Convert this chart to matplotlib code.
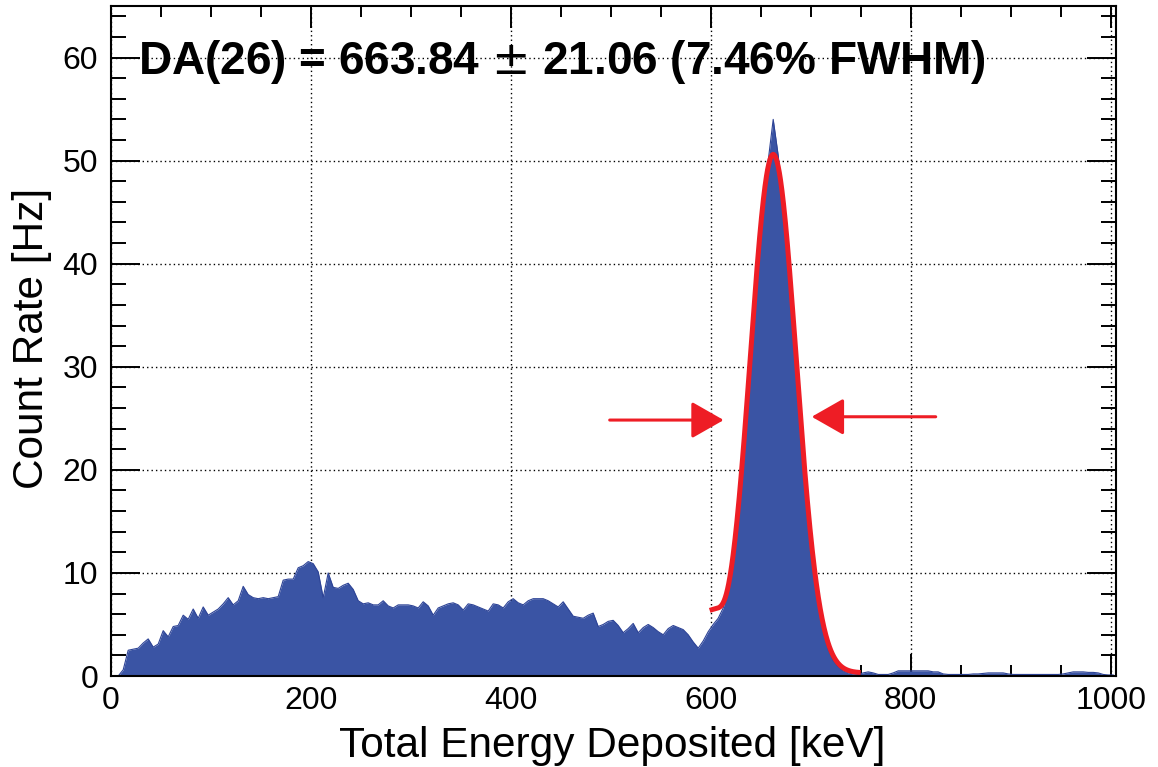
import numpy as np
import matplotlib
matplotlib.use("Agg")
import matplotlib.pyplot as plt
from matplotlib.ticker import MultipleLocator

plt.rcParams['font.family'] = ['Liberation Sans', 'DejaVu Sans']

# ---------------- data ----------------
bin_width_kev = 5.0
# count rate [Hz] per 5 keV bin, starting at 0 keV
count_rate = [
    0.0, 0.0, 0.6, 2.5, 2.6, 2.7, 3.2, 3.6, 2.8, 3.1,          # 0-45
    4.4, 3.8, 4.8, 4.9, 5.9, 5.5, 6.5, 5.6, 6.7, 5.9,          # 50-95
    6.2, 6.5, 7.0, 7.6, 6.9, 7.3, 8.7, 7.9, 7.6, 7.5,          # 100-145
    7.6, 7.5, 7.6, 7.7, 9.3, 9.4, 9.4, 10.5, 10.7, 11.1,       # 150-195
    10.9, 10.1, 7.6, 10.0, 8.6, 8.5, 8.8, 9.0, 8.4, 7.3,       # 200-245
    7.0, 7.1, 6.9, 6.9, 7.3, 6.8, 6.6, 6.9, 6.9, 6.9,          # 250-295
    6.8, 6.6, 7.2, 6.8, 5.9, 6.6, 6.8, 7.0, 7.1, 6.9,          # 300-345
    6.4, 7.0, 6.9, 6.7, 6.5, 6.3, 7.0, 6.9, 6.6, 7.2,          # 350-395
    7.5, 7.1, 6.9, 7.3, 7.5, 7.5, 7.5, 7.3, 7.0, 6.7,          # 400-445
    7.2, 6.5, 5.8, 5.7, 5.6, 5.9, 6.1, 4.8, 5.0, 5.3,          # 450-495
    5.4, 4.9, 4.2, 4.6, 5.1, 4.2, 4.7, 5.0, 4.7, 4.3,          # 500-545
    4.0, 4.6, 4.9, 4.7, 4.5, 4.0, 3.3, 2.7, 3.4, 4.3,          # 550-595
    5.0, 5.6, 6.6, 8.6, 11.8, 16.0, 21.3, 27.5, 34.0, 40.5,    # 600-645
    46.0, 50.0, 54.0, 50.5, 45.5, 40.0, 33.5, 27.0, 20.5, 15.0,  # 650-695
    10.5, 7.0, 4.4, 2.6, 1.5, 0.9, 0.5, 0.3, 0.2, 0.15,        # 700-745
    0.3, 0.4, 0.3, 0.15, 0.15, 0.15, 0.3, 0.5, 0.5, 0.5,       # 750-795
    0.5, 0.5, 0.5, 0.5, 0.4, 0.4, 0.2, 0.15, 0.15, 0.15,       # 800-845
    0.15, 0.15, 0.2, 0.2, 0.25, 0.3, 0.3, 0.3, 0.3, 0.2,       # 850-895
    0.15, 0.15, 0.15, 0.15, 0.15, 0.15, 0.15, 0.15, 0.15, 0.15,  # 900-945
    0.2, 0.3, 0.4, 0.4, 0.4, 0.35, 0.35, 0.3, 0.15, 0.1,       # 950-995
    0.1,                                                        # 1000
]

# Gaussian photopeak fit with a small low-energy shoulder, as drawn
fit_amplitude = 50.3
fit_mean = 662.5
fit_sigma = 23.0
fit_shoulder_height = 5.5
fit_shoulder_edge = 610.0
fit_shoulder_width = 5.0
fit_baseline = 0.3
fit_range = (599.0, 750.0)

title_text = "DA(26) = 663.84 $\\pm$ 21.06 (7.46% FWHM)"
x_label = "Total Energy Deposited [keV]"
y_label = "Count Rate [Hz]"
x_ticks = [0, 200, 400, 600, 800, 1000]
y_ticks = [0, 10, 20, 30, 40, 50, 60]

# FWHM arrow annotation (data coordinates)
left_arrow = ((499.0, 24.83), (613.0, 24.83))   # (tail, tip)
right_arrow = ((825.0, 25.15), (701.0, 25.15))

# ---------------- style ----------------
BLUE = '#3a54a4'
BLUE_EDGE = '#2d4396'
RED = '#ee1d25'

fig = plt.figure(figsize=(11.58, 7.67), dpi=100)
ax = fig.add_axes([110.7 / 1158, 1 - 676 / 767, (1115.7 - 110.7) / 1158, (676 - 6) / 767])

centers = (np.arange(len(count_rate)) + 0.5) * bin_width_kev
ax.fill_between(centers, count_rate, 0, color=BLUE, lw=0, zorder=2)
ax.plot(centers, count_rate, color=BLUE_EDGE, lw=0.8, zorder=2.1)

e = np.linspace(fit_range[0], fit_range[1], 400)
fit = (fit_amplitude * np.exp(-0.5 * ((e - fit_mean) / fit_sigma) ** 2)
       + fit_shoulder_height / (1.0 + np.exp((e - fit_shoulder_edge) / fit_shoulder_width))
       + fit_baseline)
ax.plot(e, fit, color=RED, lw=3.6, zorder=3, solid_capstyle='butt')

for tail, tip in (left_arrow, right_arrow):
    ax.annotate('', xy=tip, xytext=tail,
                arrowprops=dict(arrowstyle='-|>,head_length=1.0,head_width=0.57',
                                mutation_scale=20, lw=2.2, color=RED,
                                shrinkA=0, shrinkB=0),
                zorder=4)

ax.set_xlim(0, 1005)
ax.set_ylim(0, 65)
ax.set_xticks(x_ticks)
ax.set_yticks(y_ticks)
ax.xaxis.set_minor_locator(MultipleLocator(50))
ax.yaxis.set_minor_locator(MultipleLocator(2))

ax.set_axisbelow(True)
ax.grid(True, which='major', linestyle=(0, (1, 2.2)), color='black', lw=1.0, zorder=1)

for s in ax.spines.values():
    s.set_linewidth(1.5)
    s.set_zorder(5)

ax.tick_params(axis='both', which='both', direction='in', top=True, right=True,
               width=1.4, labelsize=23, colors='black')
ax.tick_params(axis='x', which='major', length=16, pad=7)
ax.tick_params(axis='x', which='minor', length=8)
ax.tick_params(axis='y', which='major', length=21, pad=9)
ax.tick_params(axis='y', which='minor', length=10.5)

fig.text(138.3 / 1158, 1 - 73.5 / 767, title_text, fontsize=33, fontweight='bold',
         ha='left', va='baseline')
fig.text(612.5 / 1158, 1 - 757 / 767, x_label, fontsize=30.5, ha='center', va='baseline')
fig.text(43.3 / 1158, 1 - 338 / 767, y_label, fontsize=30.5, rotation=90,
         rotation_mode='anchor', ha='center', va='baseline')

fig.savefig('out.png', dpi=100)
